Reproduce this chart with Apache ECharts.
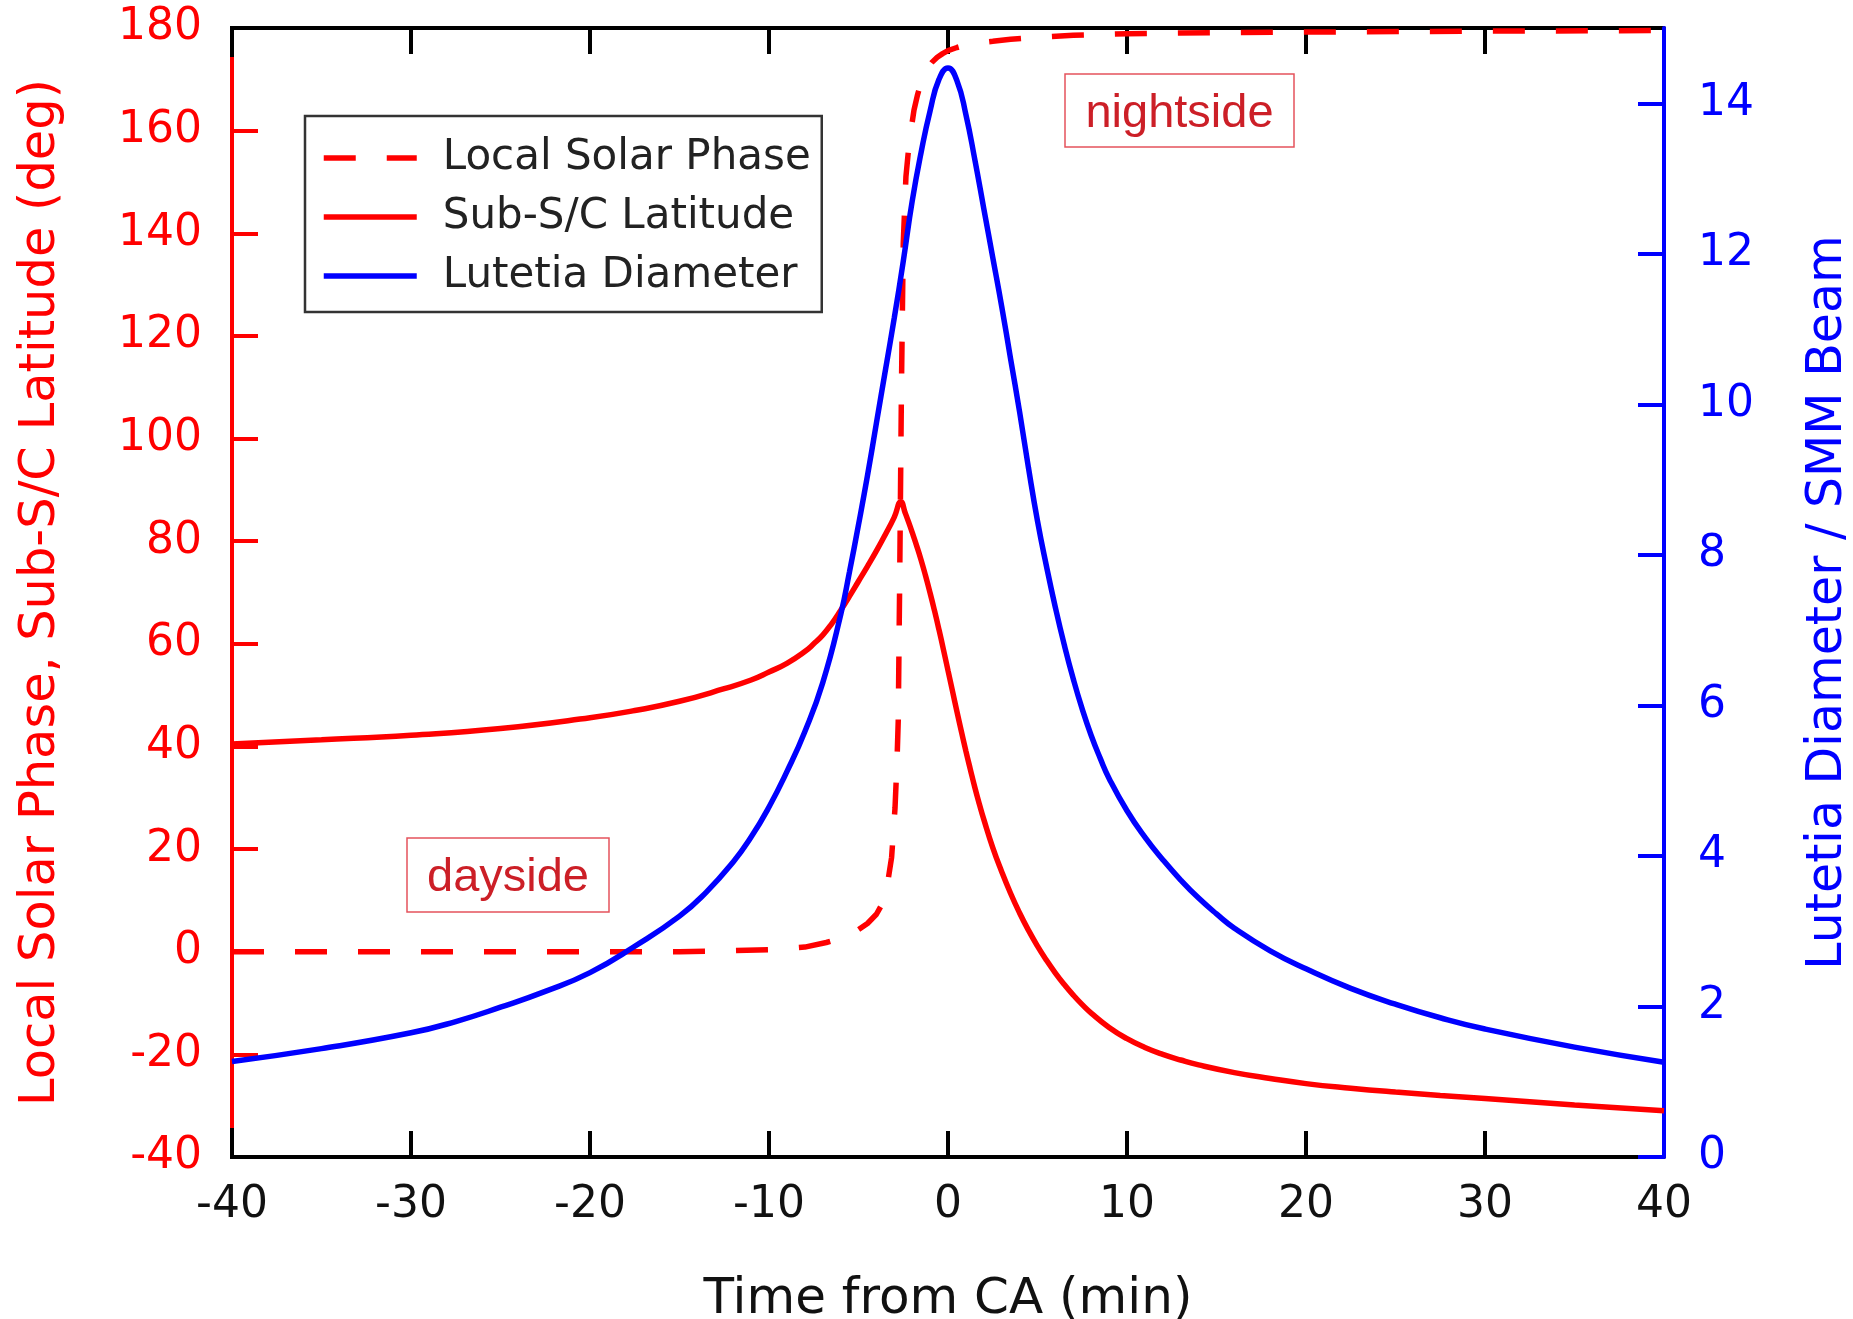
<!DOCTYPE html>
<html>
<head>
<meta charset="utf-8">
<script src="https://cdn.jsdelivr.net/npm/echarts@6/dist/echarts.min.js"></script>
<style>
html,body{margin:0;padding:0;background:#fff;}
#chart{width:1853px;height:1319px;}
</style>
</head>
<body>
<div id="chart"></div>
<script>
// ---- data ----
const xTicks = [-40, -30, -20, -10, 0, 10, 20, 30, 40];
const leftTicks = [-40, -20, 0, 20, 40, 60, 80, 100, 120, 140, 160, 180];
const leftInnerTicks = [-20, 0, 20, 40, 60, 80, 100, 120, 140, 160];
const rightTicks = [0, 2, 4, 6, 8, 10, 12, 14];

const phaseTime = [-40,-35,-30,-25,-20,-15,-12,-10,-8,-6.8,-6,-5.3,-4.5,-4,-3.6,-3.4,-3.15,-2.96,-2.85,-2.78,-2.7,-2.6,-2.5,-2.42,-2.35,-2.2,-2.05,-1.9,-1.7,-1.5,-1.2,-0.9,-0.6,-0.3,0,0.5,1,1.7,2.5,3.5,5,7,10,15,20,30,40];
const phaseDeg  = [0,0,0,0,0,0,0.2,0.4,0.9,1.8,2.6,3.6,5.5,7.3,9.8,12.8,18.4,28,37,45,72,110,138,145,151,156.5,160.5,164,167,169.5,172,173.3,174.3,175,175.6,176.2,176.7,177.1,177.4,177.8,178.2,178.6,178.9,179.1,179.2,179.4,179.5];

const latTime = [-40,-35,-30,-25,-20,-17.5,-15,-12.5,-11,-10,-9,-8,-7.5,-7,-6.5,-6,-5.5,-5,-4.5,-4,-3.5,-3,-2.63,-2.4,-2.2,-2,-1.75,-1.5,-1.25,-1,-0.75,-0.5,-0.25,0,0.25,0.5,0.75,1,1.25,1.5,1.75,2,2.5,3,3.5,4,4.5,5,5.5,6,6.5,7,7.5,8,9,10,11,12,13,14,16,18,20,22.5,25,27.5,30,35,40];
const latDeg  = [40.5,41.3,42.2,43.5,45.6,47.0,48.8,51.25,52.95,54.5,56.2,58.5,60.0,61.7,63.9,66.5,69.3,72.2,75.1,78.1,81.3,84.7,87.7,85.6,83.7,81.7,79.1,76.3,73.2,69.9,66.4,62.7,58.8,54.8,50.8,46.8,42.9,39.1,35.5,32.0,28.8,25.8,20.3,15.6,11.35,7.55,4.15,1.1,-1.65,-4.15,-6.4,-8.45,-10.3,-11.95,-14.75,-16.95,-18.65,-20.0,-21.1,-22.05,-23.55,-24.7,-25.7,-26.6,-27.35,-28.0,-28.6,-29.85,-31.0];

const diamTime = [-40,-35,-30,-27.5,-25,-22.5,-20,-17.5,-15,-13.5,-12,-11,-10,-9,-8,-7,-6,-5.5,-5,-4.5,-4,-3.5,-3,-2.5,-2,-1.5,-1,-0.5,0,0.5,1,1.5,2,2.5,3,3.5,4,4.5,5,5.5,6,6.5,7,7.5,8,8.5,9,10,11,12,13,14,15,16,18,20,22.5,25,27.5,30,35,40];
const diamVal  = [1.27,1.44,1.65,1.8,1.99,2.2,2.45,2.8,3.2,3.52,3.92,4.25,4.65,5.12,5.65,6.3,7.2,7.78,8.4,9.05,9.75,10.45,11.15,11.9,12.7,13.35,13.9,14.32,14.47,14.3,13.85,13.25,12.6,11.95,11.3,10.6,9.9,9.15,8.45,7.85,7.3,6.8,6.35,5.95,5.6,5.3,5.03,4.6,4.25,3.95,3.68,3.44,3.23,3.04,2.74,2.5,2.24,2.03,1.85,1.70,1.46,1.26];

const seriesNames = ['Local Solar Phase', 'Sub-S/C Latitude', 'Lutetia Diameter'];
const xTitle = 'Time from CA (min)';
const leftTitle = 'Local Solar Phase, Sub-S/C Latitude (deg)';
const rightTitle = 'Lutetia Diameter / SMM Beam';
const notes = ['nightside', 'dayside'];

// ---- build ----
const zip = (a, b) => a.map((t, i) => [t, b[i]]);
const FONT = 'DejaVu Sans';
const RED = '#ff0000', BLUE = '#0000ff', BLACK = '#111111';

const chart = echarts.init(document.getElementById('chart'), null, {renderer: 'canvas'});

const option = {
  animation: false,
  backgroundColor: '#ffffff',
  grid: {left: 232, right: 189, top: 28, bottom: 162, containLabel: false, outerBoundsMode: 'none'},
  legend: {
    orient: 'vertical', left: 305, top: 116,
    padding: [19, 11, 13, 16], itemGap: 13, itemWidth: 93, itemHeight: 4,
    borderColor: '#333333', borderWidth: 2.5, backgroundColor: '#ffffff',
    itemStyle: {opacity: 0},
    lineStyle: {width: 5.5},
    textStyle: {fontFamily: FONT, fontSize: 42, color: '#222222', lineHeight: 46, padding: [0, 0, 0, 21]},
    data: seriesNames,
    selectedMode: false
  },
  xAxis: [
    {
      type: 'value', position: 'bottom', min: -40, max: 40, interval: 10, z: 1,
      axisLine: {onZero: false, lineStyle: {color: '#000', width: 4}},
      axisTick: {inside: true, length: 26, lineStyle: {color: '#000', width: 4}},
      axisLabel: {fontFamily: FONT, fontSize: 44, color: BLACK, margin: 27},
      splitLine: {show: false},
      name: xTitle, nameLocation: 'middle', nameGap: 118,
      nameTextStyle: {fontFamily: FONT, fontSize: 50, color: BLACK}
    },
    {
      type: 'value', position: 'top', min: -40, max: 40, interval: 10, z: 1,
      axisLine: {onZero: false, lineStyle: {color: '#000', width: 4}},
      axisTick: {inside: true, length: 26, lineStyle: {color: '#000', width: 4}},
      axisLabel: {show: false},
      splitLine: {show: false}
    }
  ],
  yAxis: [
    {
      type: 'value', position: 'left', min: -40, max: 180, interval: 20,
      axisLine: {onZero: false, lineStyle: {color: RED, width: 4}},
      axisTick: {inside: true, length: 26, lineStyle: {color: RED, width: 4}, customValues: leftInnerTicks},
      axisLabel: {fontFamily: FONT, fontSize: 44, color: RED, margin: 30},
      splitLine: {show: false},
      name: leftTitle, nameLocation: 'middle', nameRotate: 90, nameGap: 166,
      nameTextStyle: {fontFamily: FONT, fontSize: 49.5, color: RED}
    },
    {
      type: 'value', position: 'right', min: 0, max: 15, interval: 2, z: 2,
      axisLine: {onZero: false, lineStyle: {color: BLUE, width: 4}},
      axisTick: {inside: true, length: 26, lineStyle: {color: BLUE, width: 4}, customValues: rightTicks},
      axisLabel: {fontFamily: FONT, fontSize: 44, color: BLUE, margin: 34, customValues: rightTicks,
                  formatter: v => (v > 14 ? '' : String(v))},
      splitLine: {show: false},
      name: rightTitle, nameLocation: 'middle', nameRotate: 90, nameGap: 140,
      nameTextStyle: {fontFamily: FONT, fontSize: 49, color: BLUE, padding: [0, 20, 0, 0]}
    }
  ],
  series: [
    {
      name: seriesNames[0], type: 'line', xAxisIndex: 0, yAxisIndex: 0,
      data: zip(phaseTime, phaseDeg), symbol: 'none', showSymbol: false, smooth: false,
      lineStyle: {color: RED, width: 5.5, type: [32, 31]}, itemStyle: {color: RED},
      emphasis: {disabled: true}, z: 2
    },
    {
      name: seriesNames[1], type: 'line', xAxisIndex: 0, yAxisIndex: 0,
      data: zip(latTime, latDeg), symbol: 'none', showSymbol: false, smooth: 0.5,
      lineStyle: {color: RED, width: 5.5}, itemStyle: {color: RED},
      emphasis: {disabled: true}, z: 3
    },
    {
      name: seriesNames[2], type: 'line', xAxisIndex: 0, yAxisIndex: 1,
      data: zip(diamTime, diamVal), symbol: 'none', showSymbol: false, smooth: 0.5,
      lineStyle: {color: BLUE, width: 5.5}, itemStyle: {color: BLUE},
      emphasis: {disabled: true}, z: 4
    }
  ],
  graphic: [
    // black frame ends of the left axis line, as in the reference
    {type: 'line', shape: {x1: 232, y1: 26, x2: 232, y2: 57}, style: {stroke: '#000', lineWidth: 4}, z: 50},
    {type: 'line', shape: {x1: 232, y1: 1128, x2: 232, y2: 1159}, style: {stroke: '#000', lineWidth: 4}, z: 50},
    {type: 'rect', shape: {x: 1065, y: 74, width: 229, height: 73},
     style: {fill: '#ffffff', stroke: '#e5535c', lineWidth: 1.5}, z: 100},
    {type: 'text', x: 1179.5, y: 114.5,
     style: {text: notes[0], font: '47px "Liberation Sans", Arial, sans-serif', fill: '#cc1f27',
             align: 'center', verticalAlign: 'middle', textAlign: 'center', textVerticalAlign: 'middle'}, z: 101},
    {type: 'rect', shape: {x: 407, y: 838, width: 202, height: 74},
     style: {fill: '#ffffff', stroke: '#e5535c', lineWidth: 1.5}, z: 100},
    {type: 'text', x: 508, y: 878.5,
     style: {text: notes[1], font: '47px "Liberation Sans", Arial, sans-serif', fill: '#cc1f27',
             align: 'center', verticalAlign: 'middle', textAlign: 'center', textVerticalAlign: 'middle'}, z: 101}
  ]
};
chart.setOption(option);
</script>
</body>
</html>
